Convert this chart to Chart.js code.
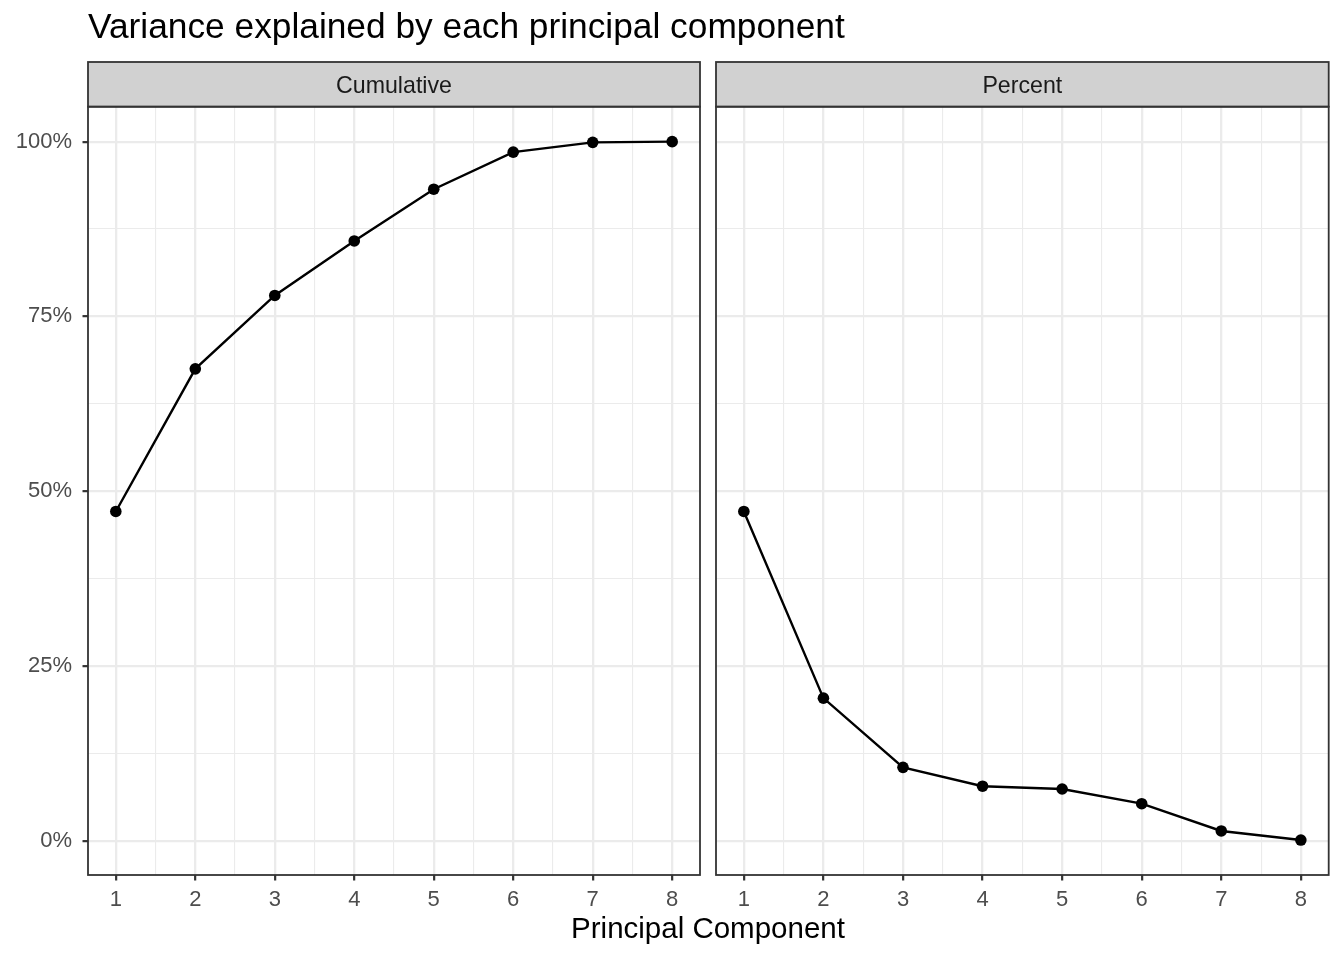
<!DOCTYPE html>
<html>
<head>
<meta charset="utf-8">
<script src="https://cdn.jsdelivr.net/npm/chart.js@4"></script>
<style>
html,body{margin:0;padding:0;background:#fff;width:1344px;height:960px;overflow:hidden;}
#wrap{position:relative;width:1344px;height:960px;font-family:"Liberation Sans",Arial,Helvetica,sans-serif;}
canvas{position:absolute;top:0;}
#cA{left:0;}
#cB{left:700px;}
#title{position:absolute;left:88px;top:8px;font-size:35.3px;line-height:35.3px;color:#000;white-space:nowrap;}
#xtitle{position:absolute;left:408px;width:600px;top:913px;font-size:29.5px;line-height:29.5px;color:#000;text-align:center;white-space:nowrap;}
</style>
</head>
<body>
<div id="wrap">
  <canvas id="cA" width="710" height="960"></canvas>
  <canvas id="cB" width="644" height="960"></canvas>
  <div id="title">Variance explained by each principal component</div>
  <div id="xtitle">Principal Component</div>
</div>
<script>
// ---- data ----
const components = [1, 2, 3, 4, 5, 6, 7, 8];
const cumulative = [47.1, 67.5, 78.0, 85.8, 93.2, 98.5, 99.9, 100.0];
const percent    = [47.1, 20.4, 10.5, 7.8, 7.4, 5.3, 1.4, 0.1];
const facetLabels = ['Cumulative', 'Percent'];
const xMajor = [1, 2, 3, 4, 5, 6, 7, 8];
const xMinor = [1.5, 2.5, 3.5, 4.5, 5.5, 6.5, 7.5];
const yMajor = [0, 25, 50, 75, 100];
const yMinor = [12.5, 37.5, 62.5, 87.5];
const yLabels = ['0%', '25%', '50%', '75%', '100%'];
const xLabels = ['1', '2', '3', '4', '5', '6', '7', '8'];

const FONT = '"Liberation Sans", Arial, Helvetica, sans-serif';
const GRID = '#EBEBEB';
const DARK = '#333333';

const panelPlugin = {
  id: 'panel',
  afterDraw(chart, args, opts) {
    const { ctx, chartArea: a } = chart;
    ctx.save();
    const st = opts.stripTop;
    ctx.fillStyle = '#D1D1D1';
    ctx.fillRect(a.left, st, a.right - a.left, a.top - st);
    ctx.strokeStyle = DARK;
    ctx.lineWidth = 1.8;
    ctx.strokeRect(a.left, st, a.right - a.left, a.top - st);
    ctx.strokeRect(a.left, a.top, a.right - a.left, a.bottom - a.top);
    ctx.fillStyle = '#1A1A1A';
    ctx.font = '23.2px ' + FONT;
    ctx.textAlign = 'center';
    ctx.textBaseline = 'alphabetic';
    ctx.fillText(opts.label, (a.left + a.right) / 2, opts.stripBaseline);
    ctx.restore();
  }
};

function buildTicks(major, minor) {
  return [...major, ...minor].sort((p, q) => p - q).map(v => ({ value: v }));
}

function makeChart(id, values, label, showY, rightPad, yWidth) {
  return new Chart(document.getElementById(id), {
    type: 'line',
    data: {
      datasets: [{
        data: components.map((c, i) => ({ x: c, y: values[i] })),
        borderColor: '#000',
        borderWidth: 2.4,
        pointRadius: 5.8,
        pointBackgroundColor: '#000',
        pointBorderWidth: 0,
        tension: 0,
        fill: false
      }]
    },
    options: {
      responsive: false,
      animation: false,
      events: [],
      layout: { padding: { left: 0, top: 106.7, right: rightPad, bottom: 0 } },
      plugins: {
        legend: { display: false },
        tooltip: { enabled: false },
        panel: { label: label, stripTop: 62, stripBaseline: 93 }
      },
      scales: {
        x: {
          type: 'linear',
          min: 0.65, max: 8.35,
          afterBuildTicks: s => { s.ticks = buildTicks(xMajor, xMinor); },
          afterFit: s => { s.height = 85; },
          border: { display: false },
          grid: {
            color: GRID,
            lineWidth: c => xMajor.includes(c.tick.value) ? 2.3 : 1.1,
            drawTicks: true,
            tickLength: 5.5,
            tickWidth: 2.2,
            tickColor: c => xMajor.includes(c.tick.value) ? DARK : 'rgba(0,0,0,0)'
          },
          ticks: {
            autoSkip: false,
            maxRotation: 0,
            padding: 6,
            color: '#4D4D4D',
            font: { family: FONT, size: 22 },
            callback: v => { const i = xMajor.indexOf(v); return i >= 0 ? xLabels[i] : ''; }
          }
        },
        y: {
          type: 'linear',
          min: -4.9, max: 105,
          afterBuildTicks: s => { s.ticks = buildTicks(yMajor, yMinor); },
          afterFit: s => { s.width = yWidth; },
          border: { display: false },
          grid: {
            color: GRID,
            lineWidth: c => yMajor.includes(c.tick.value) ? 2.3 : 1.1,
            drawTicks: showY,
            tickLength: 5.5,
            tickWidth: 2.2,
            tickColor: c => yMajor.includes(c.tick.value) ? DARK : 'rgba(0,0,0,0)'
          },
          ticks: {
            display: showY,
            autoSkip: false,
            padding: 10.5,
            color: '#4D4D4D',
            font: { family: FONT, size: 22 },
            callback: v => { const i = yMajor.indexOf(v); return i >= 0 ? yLabels[i] : ''; }
          }
        }
      }
    },
    plugins: [panelPlugin]
  });
}

makeChart('cA', cumulative, facetLabels[0], true, 10, 88);
makeChart('cB', percent, facetLabels[1], false, 15.3, 16);
</script>
</body>
</html>
